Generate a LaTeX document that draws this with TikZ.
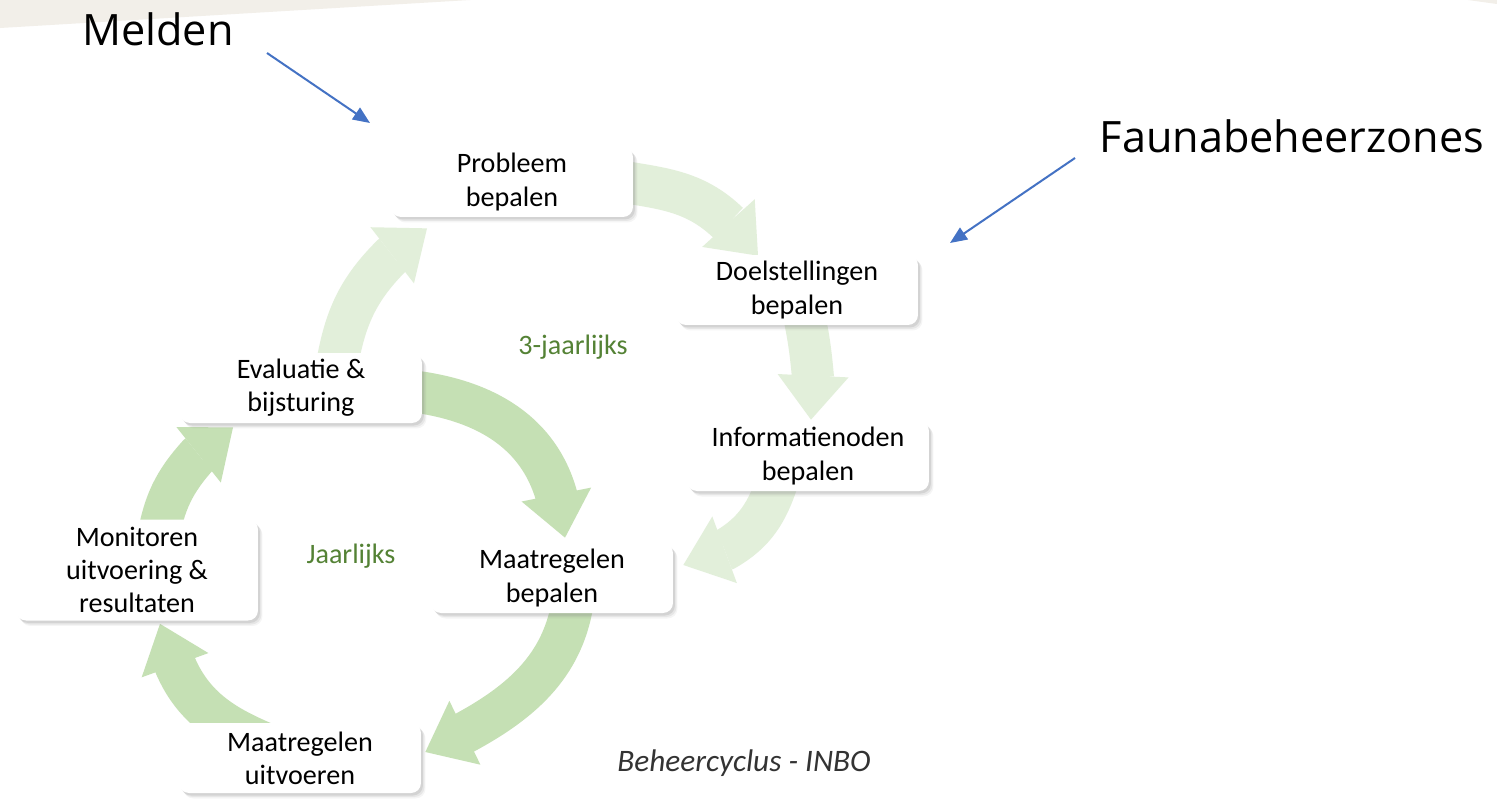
\documentclass[tikz,border=0pt]{standalone}
\usepackage{fontspec}
\setmainfont{Carlito}
\newfontfamily\headfont{Open Sans}
\usepackage{xcolor}
\usepackage{tikz}
\usetikzlibrary{arrows.meta,calc,shadows,backgrounds}
\definecolor{lightleaf}{HTML}{E2EFDA}
\definecolor{leaf}{HTML}{C5E0B4}
\definecolor{leafdark}{HTML}{548235}
\definecolor{pointerblue}{HTML}{4472C4}
\definecolor{sand}{HTML}{F2EFE9}

\begin{document}
\begin{tikzpicture}[x=0.02cm, y=0.02cm,
    card/.style={rectangle, rounded corners=0.2cm, fill=white, align=center,
        minimum width=4.84cm, minimum height=1.4cm, inner sep=0pt,
        font=\fontsize{16}{18.8}\selectfont,
        drop shadow={shadow xshift=0.09cm, shadow yshift=-0.11cm, opacity=0.08},
        drop shadow={shadow xshift=0.07cm, shadow yshift=-0.08cm, opacity=0.12},
        drop shadow={shadow xshift=0.04cm, shadow yshift=-0.05cm, opacity=0.18}},
    outer arrow/.style={draw, color=lightleaf, line width=0.84cm,
        -{Triangle[length=0.88cm, width=1.42cm, line width=0pt]}},
    inner arrow/.style={outer arrow, color=leaf},
    pointer/.style={draw=pointerblue, line width=0.04cm,
        -{Triangle[length=0.34cm, width=0.28cm, fill=pointerblue]}},
    period/.style={text=leafdark, font=\fontsize{16}{18.8}\selectfont},
    headline/.style={font=\headfont\fontsize{24.6}{28}\selectfont, anchor=base}]

    \useasboundingbox (0,0) rectangle (1497,-798);

    % the seven steps
    \node[card] (prob) at (512,-182) {Probleem\\bepalen};
    \node[card] (doel) at (797,-290) {Doelstellingen\\bepalen};
    \node[card] (info) at (808,-456) {Informatienoden\\bepalen};
    \node[card] (maatB) at (552,-578) {Maatregelen\\bepalen};
    \node[card] (maatU) at (300,-758) {Maatregelen\\uitvoeren};
    \node[card, minimum height=2.02cm] (mon) at (137,-570) {Monitoren\\uitvoering \&\\resultaten};
    \node[card] (eval) at (301,-388) {Evaluatie \&\\bijsturing};

    \node[period] (tri) at (573,-347) {3-jaarlijks};
    \node[period] (year) at (351,-556) {Jaarlijks};
    \node[font=\itshape\fontsize{17.8}{20}\selectfont, text=black!80] (credit) at (744,-763) {Beheercyclus - INBO};

    \node[headline] (melden) at (158,-45) {Melden};
    \node[headline] (fauna) at (1292,-152) {Faunabeheerzones};

    \coordinate (meldenFrom) at (267,-53);
    \coordinate (meldenTo) at (370,-123);
    \coordinate (faunaFrom) at (1075,-158);
    \coordinate (faunaTo) at (950,-243);
    \draw[pointer] (meldenFrom) -- (meldenTo);
    \draw[pointer] (faunaFrom) -- (faunaTo);

    % head base and tip of every cycle arrow
    \coordinate (baseDoel) at ($(doel.north)+(-68.5,31.5)$);
    \coordinate (tipDoel) at ($(doel.north)+(-39,-1)$);
    \coordinate (baseInfo) at ($(info.north)+(5,43)$);
    \coordinate (tipInfo) at ($(info.north)+(3,1)$);
    \coordinate (baseMaatB) at ($(maatB.east)+(52,28.5)$);
    \coordinate (tipMaatB) at ($(maatB.east)+(10,13)$);
    \coordinate (baseProb) at ($(prob.south)+(-120.5,-38.5)$);
    \coordinate (tipProb) at ($(prob.south)+(-85,-11)$);
    \coordinate (baseDown) at ($(maatB.north)+(5,45)$);
    \coordinate (tipDown) at ($(maatB.north)+(13,5)$);
    \coordinate (baseMaatU) at ($(maatU.east)+(40,23.5)$);
    \coordinate (tipMaatU) at ($(maatU.east)+(4,6)$);
    \coordinate (baseMon) at ($(mon.south)+(37,-41.5)$);
    \coordinate (tipMon) at ($(mon.south)+(23,-3)$);
    \coordinate (baseEval) at ($(eval.south)+(-103,-32)$);
    \coordinate (tipEval) at ($(eval.south)+(-68,-4)$);

    \begin{scope}[on background layer]
        \fill[white] (0,0) rectangle (1497,-798);
        \fill[sand] (0,0) -- (470,0) -- (0,-28) -- cycle;
        \fill[sand] (1468,0) -- (1497,0) -- (1497,-4) -- cycle;

        % 3-jaarlijks cycle
        \draw[outer arrow] ($(prob.east)+(-21,2)$) to[out=-10, in=136] (baseDoel) -- (tipDoel);
        \draw[outer arrow] ($(doel.south)+(6,15)$) to[out=-78, in=95] (baseInfo) -- (tipInfo);
        \draw[outer arrow] ($(info.south)+(-30,12)$) to[out=-108, in=30] (baseMaatB) -- (tipMaatB);
        \draw[outer arrow] ($(eval.north)+(36,-12)$) to[out=80, in=-135] (baseProb) -- (tipProb);

        % jaarlijks cycle
        \draw[inner arrow] ($(eval.east)+(-22,-2)$) to[out=-5, in=105] (baseDown) -- (tipDown);
        \draw[inner arrow] ($(maatB.south)+(22,21)$) to[out=-96, in=28] (baseMaatU) -- (tipMaatU);
        \draw[inner arrow] ($(maatU.north)+(-5,-33)$) to[out=158, in=-68] (baseMon) -- (tipMon);
        \draw[inner arrow] ($(mon.north)+(21,-19)$) to[out=80, in=-132] (baseEval) -- (tipEval);
    \end{scope}
\end{tikzpicture}
\end{document}
